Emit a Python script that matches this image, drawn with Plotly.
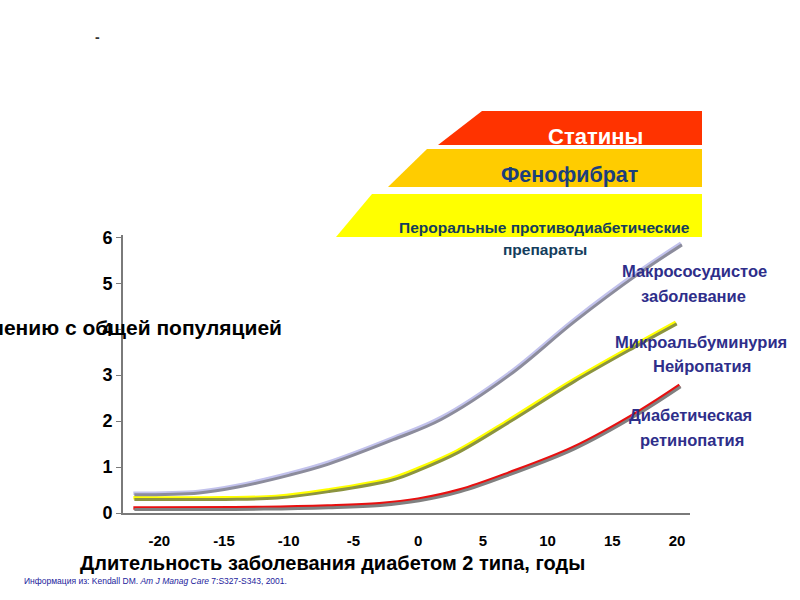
import plotly.graph_objects as go

# ---------------- data ----------------
x_ticks = [-20, -15, -10, -5, 0, 5, 10, 15, 20]
x_ticktext = ["-20", "-15", "-10", "-5", "0", "5", "10", "15", "20"]
y_ticks = [0, 1, 2, 3, 4, 5, 6]

years_macro = [-22, -17, -14, -10, -7, -2, 1.7, 7, 12, 17, 20.3]
risk_macro = [0.43, 0.47, 0.6, 0.86, 1.1, 1.63, 2.07, 3.04, 4.2, 5.25, 5.87]

years_micro = [-22, -15, -11, -7, -2, 0, 3, 7, 12, 17, 19.9]
risk_micro = [0.33, 0.33, 0.36, 0.5, 0.76, 0.97, 1.35, 2.02, 2.9, 3.7, 4.15]

years_retino = [-22, -12, -7, -3, 0, 3.2, 7, 12, 17, 20.2]
risk_retino = [0.11, 0.12, 0.15, 0.2, 0.3, 0.5, 0.87, 1.43, 2.2, 2.78]

curve_labels = [["Макрососудистое", "заболевание"],
                ["Микроальбуминурия", "Нейропатия"],
                ["Диабетическая", "ретинопатия"]]
therapy_labels = ["Статины", "Фенофибрат", "Пероральные противодиабетические", "препараты"]
x_title = "Длительность заболевания диабетом 2 типа, годы"
y_title = "Относительный риск по сравнению с общей популяцией"
source_text = "Информация из: Kendall DM. <i>Am J Manag Care</i> 7:S327-S343, 2001."

# ---------------- layout geometry ----------------
W, H = 800, 600
L, R, T, B = 123, 110, 235, 87
PW, PH = W - L - R, H - T - B
x_range = [-22.8, 21.0]
y_range = [0, 6.05]


def px(xp):
    return (xp - L) / PW


def py(yp):
    return (H - B - yp) / PH


FONT = "Liberation Sans, Arial, sans-serif"

fig = go.Figure()

series = [
    (years_macro, risk_macro, "#c2c2ec", "#8c8c9c"),
    (years_micro, risk_micro, "#ffff00", "#8c9440"),
    (years_retino, risk_retino, "#e81010", "#808080"),
]

# shadows (same data drawn on offset overlay axes)
for xs, ys, col, sh in series:
    fig.add_trace(go.Scatter(x=xs, y=ys, mode="lines", xaxis="x2", yaxis="y2",
                             line=dict(color=sh, width=3, shape="spline", smoothing=1.0),
                             hoverinfo="skip", showlegend=False))
for xs, ys, col, sh in series:
    fig.add_trace(go.Scatter(x=xs, y=ys, mode="lines",
                             line=dict(color=col, width=3.5, shape="spline", smoothing=1.0),
                             showlegend=False))

dx = 1.0 * (x_range[1] - x_range[0]) / PW
dy = 1.6 * (y_range[1] - y_range[0]) / PH

shapes = []
# therapy trapezoids
trap = [
    # (top y, bottom y, top-left x, bottom-left x, right x, colour)
    (111, 145, 482, 438, 702, "#ff3300"),
    (149, 187, 427, 388, 702, "#ffcc00"),
    (194, 237, 372, 336, 702, "#ffff00"),
]
for ty, by, tlx, blx, rx, col in trap:
    path = "M {} {} L {} {} L {} {} L {} {} Z".format(
        px(tlx), py(ty), px(rx), py(ty), px(rx), py(by), px(blx), py(by))
    shapes.append(dict(type="path", path=path, xref="paper", yref="paper",
                       fillcolor=col, line=dict(width=0), layer="below"))

LBL = "#2e2e8a"
annotations = [
    dict(text=therapy_labels[0], x=px(595), y=py(136), font=dict(size=22, color="white", family=FONT, weight="bold")),
    dict(text=therapy_labels[1], x=px(569), y=py(175), font=dict(size=21.5, color="#1b3f7c", family=FONT, weight="bold")),
    dict(text=therapy_labels[2], x=px(544), y=py(228), font=dict(size=15.5, color="#143d5c", family=FONT, weight="bold")),
    dict(text=therapy_labels[3], x=px(545), y=py(249), font=dict(size=15.5, color="#143d5c", family=FONT, weight="bold")),
    dict(text=curve_labels[0][0], x=px(694), y=py(271), font=dict(size=16.5, color=LBL, family=FONT, weight="bold")),
    dict(text=curve_labels[0][1], x=px(693), y=py(296), font=dict(size=16.5, color=LBL, family=FONT, weight="bold")),
    dict(text=curve_labels[1][0], x=px(701), y=py(342), font=dict(size=16.5, color=LBL, family=FONT, weight="bold")),
    dict(text=curve_labels[1][1], x=px(702), y=py(366), font=dict(size=16.5, color=LBL, family=FONT, weight="bold")),
    dict(text=curve_labels[2][0], x=px(690), y=py(415), font=dict(size=16.5, color=LBL, family=FONT, weight="bold")),
    dict(text=curve_labels[2][1], x=px(692), y=py(440), font=dict(size=16.5, color=LBL, family=FONT, weight="bold")),
    dict(text=x_title, x=px(332), y=py(563), font=dict(size=20, color="black", family=FONT, weight="bold")),
    dict(text=y_title, x=px(284), y=py(327), xanchor="right", font=dict(size=21, color="black", family=FONT, weight="bold")),
    dict(text=source_text, x=px(22), y=py(581), xanchor="left", font=dict(size=8.5, color="#1c1c9c", family=FONT)),
    dict(text="-", x=px(97), y=py(37), font=dict(size=14, color="#333333", family=FONT, weight="bold")),
]
for a in annotations:
    a.setdefault("xanchor", "center")
    a.update(xref="paper", yref="paper", showarrow=False, yanchor="middle")

fig.update_layout(
    width=W, height=H,
    margin=dict(l=L, r=R, t=T, b=B),
    paper_bgcolor="white", plot_bgcolor="white",
    shapes=shapes, annotations=annotations,
    xaxis=dict(range=x_range, tickvals=x_ticks, ticktext=x_ticktext, showgrid=False, zeroline=False,
               showline=True, linecolor="#7a7a7a", linewidth=2, ticks="",
               ticklabelstandoff=13,
               tickfont=dict(size=15, color="black", family=FONT, weight="bold")),
    yaxis=dict(range=y_range, tickvals=y_ticks, showgrid=False, zeroline=False,
               showline=True, linecolor="#7a7a7a", linewidth=2, ticks="outside",
               ticklen=5, tickcolor="#7a7a7a", tickwidth=1,
               tickfont=dict(size=18, color="black", family=FONT, weight="bold")),
    xaxis2=dict(range=[x_range[0] - dx, x_range[1] - dx], overlaying="x", visible=False),
    yaxis2=dict(range=[y_range[0] + dy, y_range[1] + dy], overlaying="y", visible=False),
    font=dict(family=FONT),
)

fig.write_html("out.html", config={"displayModeBar": False},
               post_script="document.body.style.margin='0';")
